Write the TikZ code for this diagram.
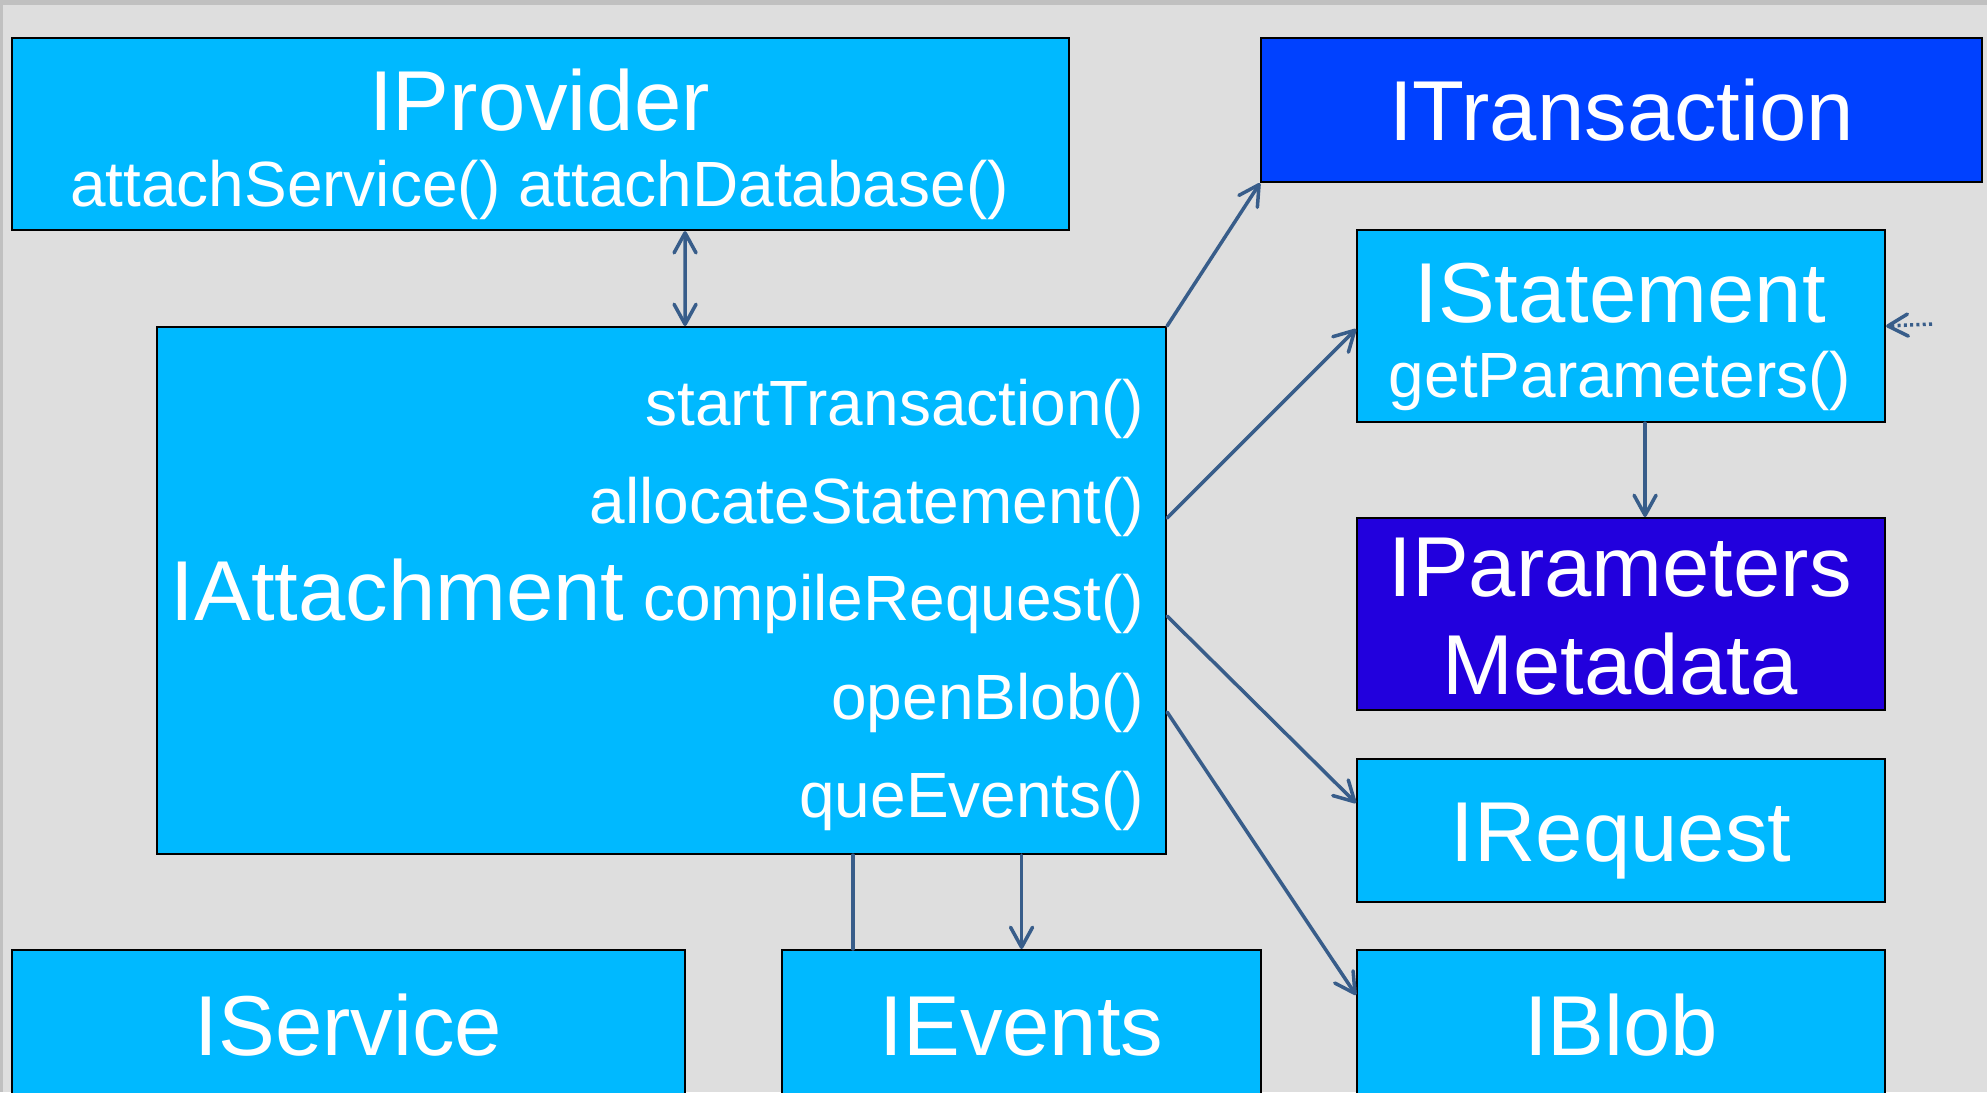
\documentclass[tikz,border=0pt]{standalone}
\usepackage{fontspec}
\setmainfont{Liberation Sans}
\usetikzlibrary{arrows.meta}

\definecolor{slide}{HTML}{DEDEDE}
\definecolor{slideedge}{HTML}{C0C0C0}
\definecolor{iface}{HTML}{00B9FF}
\definecolor{txn}{HTML}{0041FF}
\definecolor{metabox}{HTML}{2200DD}
\definecolor{link}{HTML}{385D8A}

\tikzset{
  box/.style={draw=black, line width=0.6pt, anchor=north west, inner sep=0pt, text=white,
    font=\fontsize{24.2}{28}\selectfont, text height=6.1mm, text depth=0pt},
  bigtext/.style={font=\fontsize{24.2}{28}\selectfont, text=white, inner sep=0pt},
  smalltext/.style={font=\fontsize{18.2}{21.5}\selectfont, text=white, inner sep=0pt},
  wire/.style={draw=link, line width=1pt, line cap=round},
  oneway/.style={-{Straight Barb[length=2mm,width=2.2mm,round]}},
  twoway/.style={{Straight Barb[length=2mm,width=2.2mm,round]}-{Straight Barb[length=2mm,width=2.2mm,round]}},
}

\begin{document}
\begin{tikzpicture}[x=0.1mm, y=-0.1mm]

% Slide background
\fill[slideedge] (0,0) rectangle (1987,1092);
\fill[slide] (3,5) rectangle (1987,1092);
\useasboundingbox (0,0) rectangle (1987,1092);

% Provider
\node[box, fill=iface, minimum width=105.7mm, minimum height=19.2mm] (pv) at (11,37) {};
\node[bigtext, anchor=base] (pvname) at (539.5,130) {IProvider};
\node[smalltext, anchor=base] (pvcalls) at (539.5,206) {attachService() attachDatabase()};

% Attachment with its calls
\node[box, fill=iface, minimum width=100.9mm, minimum height=52.7mm] (at) at (156,326) {};
\node[bigtext, anchor=base west] (atname) at (170,620) {IAttachment};
\node[smalltext, anchor=base east] (start) at (1145,425) {startTransaction()};
\node[smalltext, anchor=base east] (alloc) at (1145,523) {allocateStatement()};
\node[smalltext, anchor=base east] (compile) at (1145,620) {compileRequest()};
\node[smalltext, anchor=base east] (open) at (1145,719) {openBlob()};
\node[smalltext, anchor=base east] (que) at (1145,817) {queEvents()};

% Right column
\node[box, fill=txn, minimum width=72.1mm, minimum height=14.4mm] (tr) at (1260,37) {ITransaction};
\node[box, fill=iface, minimum width=52.8mm, minimum height=19.2mm] (st) at (1356,229) {};
\node[bigtext, anchor=base] (stname) at (1620,322) {IStatement};
\node[smalltext, anchor=base] (stcalls) at (1620,397) {getParameters()};
\node[box, fill=metabox, minimum width=52.8mm, minimum height=19.2mm] (pm) at (1356,517) {};
\node[bigtext, anchor=base] (pmname) at (1620,596) {IParameters};
\node[bigtext, anchor=base] (pmname2) at (1620,694) {Metadata};
\node[box, fill=iface, minimum width=52.8mm, minimum height=14.3mm] (rq) at (1356,758) {IRequest};
\node[box, fill=iface, minimum width=52.8mm, minimum height=15mm] (bl) at (1356,949) {IBlob};

% Bottom row
\node[box, fill=iface, minimum width=67.3mm, minimum height=15mm] (sv) at (11,949) {IService};
\node[box, fill=iface, minimum width=47.9mm, minimum height=15mm] (ev) at (781,949) {IEvents};

% Links
\draw[wire, twoway] ([xshift=14.45mm]pv.south) -- ([xshift=2.35mm]at.north);
\draw[wire, oneway] (at.north east) -- (tr.south west);
\draw[wire, oneway] ([yshift=7.25mm]at.east) -- ([yshift=-0.3mm]st.west);
\draw[wire, oneway] ([yshift=-2.55mm]at.east) -- ([yshift=2.75mm]rq.west);
\draw[wire, oneway] ([yshift=-12.15mm]at.east) -- ([yshift=-4.6mm]bl.north west);
\draw[wire, oneway] ([xshift=2.4mm]st.south) -- ([xshift=2.4mm]pm.north);
\coordinate (tap) at ([xshift=7.2mm]ev.north west);
\draw[wire] (at.south -| tap) -- (tap);
\draw[wire, oneway] (at.south -| ev.north) -- (ev.north);

% Incoming dotted link
\coordinate (feed) at (1932,324);
\draw[wire, oneway, line cap=butt, dash pattern=on 0.3mm off 0.33mm] (feed) -- (st.east);

\end{tikzpicture}
\end{document}
